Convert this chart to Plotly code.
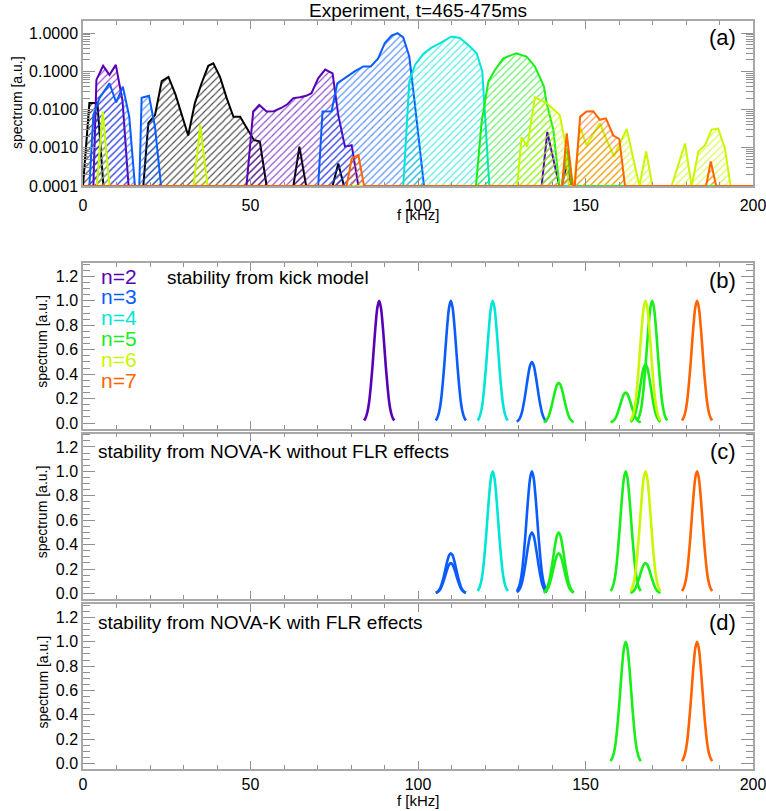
import plotly.graph_objects as go

# ---------------- panel (a): measured spectra, f [kHz] vs amplitude [a.u.] (floor 1e-4)
f_n1 = [0, 1.9, 4.3, 6.1, 18.0, 19.5, 21.5, 23.5, 25.5, 27.6, 31.4, 33.4, 35.4, 37.4, 38.9,
        40.9, 42.9, 44.9, 46.9, 49.5, 51.0, 52.8, 54.8, 62.8, 64.6, 66.6, 74.5, 76.2, 77.9, 200]
a_n1 = [1e-4, 0.0148, 0.0148, 1e-4, 1e-4, 0.0044, 0.0072, 0.056, 0.072, 0.025, 0.0021, 0.0148,
        0.049, 0.14, 0.162, 0.072, 0.020, 0.0065, 0.0065, 0.0026, 0.0016, 0.00145, 1e-4, 1e-4,
        0.00107, 1e-4, 1e-4, 0.00039, 1e-4, 1e-4]

f_n2 = [0, 3.1, 4.0, 6.0, 7.9, 9.8, 11.8, 13.6, 48.8, 50.8, 52.6, 54.8, 57.0, 59.3, 61.0, 62.8,
        64.8, 66.6, 68.2, 70.2, 72.3, 74.5, 76.2, 78.2, 80.2, 82.2, 136.9, 138.6, 142.2, 142.9,
        144.3, 145.9, 200]
a_n2 = [1e-4, 1e-4, 0.060, 0.140, 0.081, 0.148, 0.017, 1e-4, 1e-4, 0.0089, 0.0132, 0.0089,
        0.0091, 0.0112, 0.0138, 0.020, 0.021, 0.023, 0.027, 0.066, 0.112, 0.089, 0.0072,
        0.00107, 0.00117, 1e-4, 1e-4, 0.0026, 1e-4, 1e-4, 0.00034, 1e-4, 1e-4]

f_n3 = [0, 1.9, 3.1, 4.9, 7.9, 9.9, 11.9, 13.8, 15.5, 16.8, 17.5, 19.7, 21.5, 23.3, 70.2, 71.5,
        74.2, 75.9, 78.7, 81.2, 83.7, 85.9, 88.1, 90.1, 92.1, 93.9, 95.6, 97.4, 99.1, 100.6,
        101.8, 200]
a_n3 = [1e-4, 1e-4, 0.0072, 0.020, 0.049, 0.0155, 0.040, 0.0066, 1e-4, 1e-4, 0.0204, 0.023,
        0.0035, 1e-4, 1e-4, 0.0089, 0.0091, 0.049, 0.072, 0.102, 0.135, 0.135, 0.219, 0.55,
        0.87, 1.0, 0.78, 0.245, 0.0132, 0.00098, 1e-4, 1e-4]

f_n4 = [0, 95.6, 97.4, 99.1, 101.6, 104.0, 106.6, 110.0, 112.5, 115.5, 117.5, 119.2, 120.0,
        121.3, 200]
a_n4 = [1e-4, 1e-4, 0.054, 0.148, 0.29, 0.42, 0.55, 0.82, 0.75, 0.45, 0.30, 0.10, 0.0072,
        1e-4, 1e-4]

f_n5 = [0, 117.3, 119.0, 121.0, 123.0, 125.5, 129.3, 132.4, 134.9, 136.4, 137.6, 138.4, 140.4,
        142.2, 143.0, 144.4, 145.9, 200]
a_n5 = [1e-4, 1e-4, 0.0048, 0.054, 0.11, 0.22, 0.30, 0.245, 0.135, 0.072, 0.040, 0.0148,
        0.0030, 1e-4, 1e-4, 0.00098, 1e-4, 1e-4]

f_n6 = [0, 4.1, 5.9, 7.9, 33.0, 35.0, 37.2, 129.6, 130.9, 132.6, 134.9, 138.4, 142.3, 143.9,
        145.0, 146.5, 148.4, 150.3, 154.3, 156.3, 158.5, 162.3, 166.1, 168.1, 170.0, 175.7,
        179.7, 181.7, 183.7, 185.7, 187.6, 189.6, 191.6, 193.3, 200]
a_n6 = [1e-4, 1e-4, 0.0089, 1e-4, 1e-4, 0.0040, 1e-4, 1e-4, 0.0019, 0.00107, 0.021, 0.0148,
        0.0072, 0.00145, 1e-4, 1e-4, 0.0034, 0.00117, 0.0044, 0.0016, 0.0006, 0.0031, 1e-4,
        0.0008, 1e-4, 1e-4, 0.0013, 1e-4, 0.0008, 0.00117, 0.0030, 0.0032, 0.00098, 1e-4, 1e-4]

f_n7 = [0, 78.7, 80.2, 82.2, 83.9, 143.0, 144.4, 146.2, 146.8, 148.4, 150.3, 152.3, 154.3,
        156.1, 158.3, 160.1, 161.8, 186.0, 187.4, 189.0, 200]
a_n7 = [1e-4, 1e-4, 0.00052, 0.00065, 1e-4, 1e-4, 0.0024, 1e-4, 1e-4, 0.0066, 0.0089, 0.0091,
        0.0054, 0.0059, 0.0021, 0.0017, 1e-4, 1e-4, 0.00044, 1e-4, 1e-4]

# ---------------- panels (b)-(d): predicted modes (toroidal n, frequency kHz, amplitude)
kick_n = [2, 3, 3, 4, 5, 5, 5, 5, 6, 7]
kick_f = [88.4, 109.8, 134.0, 122.3, 142.0, 162.0, 167.9, 169.9, 167.9, 183.3]
kick_amp = [1.0, 1.0, 0.5, 1.0, 0.33, 0.25, 0.48, 1.0, 1.0, 1.0]

nova_n = [3, 3, 3, 3, 4, 5, 5, 5, 5, 6, 7]
nova_f = [109.8, 109.8, 134.0, 134.0, 122.3, 142.0, 142.0, 162.0, 167.9, 167.9, 183.3]
nova_amp = [0.33, 0.25, 1.0, 0.5, 1.0, 0.5, 0.33, 1.0, 0.25, 1.0, 1.0]

flr_n = [5, 7]
flr_f = [162.0, 183.3]
flr_amp = [1.0, 1.0]

# line shape of one mode peak
shape_df = [-4.5, -4, -3.5, -3, -2.5, -2, -1.5, -1, -0.5, 0, 0.5, 1, 1.5, 2, 2.5, 3, 3.5, 4, 4.5]
shape_val = [0.02, 0.045, 0.09, 0.17, 0.30, 0.46, 0.645, 0.82, 0.95, 1.0,
             0.95, 0.82, 0.645, 0.46, 0.30, 0.17, 0.09, 0.045, 0.02]

mode_labels = ["n=2", "n=3", "n=4", "n=5", "n=6", "n=7"]
colors = {1: "black", 2: "#5800b4", 3: "#0a5cff", 4: "#00e6d6", 5: "#18ee18",
          6: "#c8f800", 7: "#ff6400"}

W, H = 766, 811
ML, MR, MT, MB = 83, 13, 21, 42


def px_x(x):
    return (x - ML) / (W - ML - MR)


def px_y(y):
    return (H - MB - y) / (H - MT - MB)


fig = go.Figure()

exp = [(f_n1, a_n1, 1), (f_n2, a_n2, 2), (f_n3, a_n3, 3), (f_n4, a_n4, 4),
       (f_n5, a_n5, 5), (f_n6, a_n6, 6), (f_n7, a_n7, 7)]
for f, a, n in exp:
    c = colors[n]
    fig.add_trace(go.Scatter(
        x=f, y=a, mode="lines", line=dict(color=c, width=2),
        fill="toself", fillcolor="rgba(0,0,0,0)",
        fillpattern=dict(shape="/", size=5, solidity=0.22, fgcolor=c, fgopacity=0.7,
                         bgcolor="rgba(0,0,0,0)", fillmode="replace"),
        xaxis="x", yaxis="y", showlegend=False, hoverinfo="skip"))


def add_peaks(ns, fs, amps, ax):
    for n, f0, amp in zip(ns, fs, amps):
        fig.add_trace(go.Scatter(
            x=[f0 + d for d in shape_df], y=[amp * v for v in shape_val],
            mode="lines", line=dict(color=colors[n], width=2.6, shape="spline"),
            xaxis="x" + ax, yaxis="y" + ax, showlegend=False, hoverinfo="skip"))


add_peaks(kick_n, kick_f, kick_amp, "2")
add_peaks(nova_n, nova_f, nova_amp, "3")
add_peaks(flr_n, flr_f, flr_amp, "4")

frame = dict(showline=True, linecolor="#a8a8a8", linewidth=1.5, mirror="ticks",
             ticks="inside", tickcolor="#909090", tickwidth=1, showgrid=False,
             zeroline=False, automargin=False, ticklabeloverflow="allow",
             tickfont=dict(family="Liberation Sans", size=16, color="black"))

xdom = [0, 1]
xax = dict(frame, range=[0, 200], tick0=0, dtick=50, ticklen=8,
           minor=dict(dtick=10, ticks="inside", ticklen=4, tickcolor="#909090"))
yax_lin = dict(frame, range=[-0.045, 1.31], tick0=0, dtick=0.2, tickformat=".1f", ticklen=12,
               minor=dict(dtick=0.05, ticks="inside", ticklen=7, tickcolor="#909090"))

doms = [(21, 186), (263, 428.5), (433.5, 599), (604, 769)]

layout = dict(width=W, height=H, paper_bgcolor="white", plot_bgcolor="white",
              margin=dict(l=ML, r=MR, t=MT, b=MB, autoexpand=False),
              font=dict(family="Liberation Sans", color="black"))
for i, (top, bot) in enumerate(doms):
    k = "" if i == 0 else str(i + 1)
    ydom = [px_y(bot), px_y(top)]
    layout["xaxis" + k] = dict(xax, domain=xdom, anchor="y" + k,
                               showticklabels=(i in (0, 3)),
                               ticklabelstandoff=(4 if i == 0 else 0))
    if i == 0:
        layout["yaxis"] = dict(frame, type="log", range=[-4, 0.32], tick0=0, dtick=1,
                               tickformat=".4f", ticklen=12, domain=ydom, anchor="x",
                               minor=dict(dtick="D1", ticks="inside", ticklen=7,
                                          tickcolor="#909090"))
    else:
        layout["yaxis" + k] = dict(yax_lin, domain=ydom, anchor="x" + k)
fig.update_layout(**layout)

ann = []


def text(x, y, s, size, color="black", xanchor="left", angle=0):
    ann.append(dict(x=px_x(x), y=px_y(y), xref="paper", yref="paper", text=s,
                    showarrow=False, xanchor=xanchor, yanchor="middle", textangle=angle,
                    font=dict(family="Liberation Sans", size=size, color=color)))


text(418, 10, "Experiment, t=465-475ms", 19, xanchor="center")
text(418, 214, "f [kHz]", 15, xanchor="center")
text(418, 800, "f [kHz]", 15, xanchor="center")
text(17, 103, "spectrum [a.u.]", 14, xanchor="center", angle=-90)
for top, bot in doms[1:]:
    text(42, (top + bot) / 2 - 4, "spectrum [a.u.]", 14, xanchor="center", angle=-90)

for s, y in zip(["(a)", "(b)", "(c)", "(d)"], [38, 281, 451, 622]):
    text(738, y, s, 22, xanchor="right")

text(165, 277, "stability from kick model", 19)
text(96, 451, "stability from NOVA-K without FLR effects", 19)
text(96, 622, "stability from NOVA-K with FLR effects", 19)

for j, s in enumerate(mode_labels):
    text(99, 276 + 20.8 * j, s, 21, color=colors[j + 2])

fig.update_layout(annotations=ann)
fig.write_html("out.html", config={"displayModeBar": False},
               post_script="document.body.style.margin='0';document.body.style.overflow='hidden';")
